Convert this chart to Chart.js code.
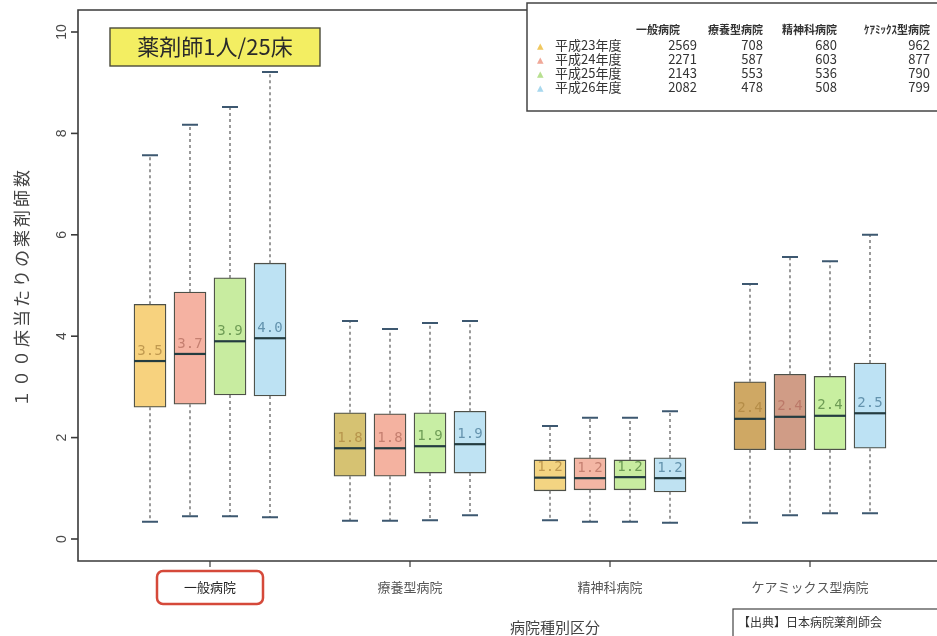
<!DOCTYPE html>
<html>
<head>
<meta charset="utf-8">
<script src="https://cdn.jsdelivr.net/npm/chart.js@4.4.1/dist/chart.umd.min.js"></script>
<style>
  body { margin: 0; background: #fff; overflow: hidden; }
  #wrap { width: 937px; height: 636px; position: relative; }
</style>
</head>
<body>
<div id="wrap"><canvas id="chart"></canvas></div>
<script>
// categories and years
const categories = ["一般病院", "療養型病院", "精神科病院", "ケアミックス型病院"];
const years = ["平成23年度", "平成24年度", "平成25年度", "平成26年度"];
const yTicks = [0, 2, 4, 6, 8, 10];

// box plot values per year (one value per category)
const low23 = [0.34, 0.36, 0.37, 0.32];
const q1_23 = [2.60, 1.24, 0.95, 1.76];
const med23 = [3.51, 1.79, 1.21, 2.37];
const q3_23 = [4.63, 2.49, 1.56, 3.10];
const high23 = [7.57, 4.30, 2.23, 5.03];

const low24 = [0.45, 0.36, 0.34, 0.47];
const q1_24 = [2.66, 1.24, 0.97, 1.76];
const med24 = [3.65, 1.79, 1.20, 2.41];
const q3_24 = [4.87, 2.47, 1.60, 3.25];
const high24 = [8.17, 4.14, 2.39, 5.56];

const low25 = [0.45, 0.37, 0.34, 0.51];
const q1_25 = [2.84, 1.30, 0.97, 1.76];
const med25 = [3.90, 1.83, 1.22, 2.43];
const q3_25 = [5.15, 2.49, 1.56, 3.21];
const high25 = [8.52, 4.26, 2.39, 5.48];

const low26 = [0.43, 0.47, 0.32, 0.51];
const q1_26 = [2.82, 1.30, 0.93, 1.79];
const med26 = [3.96, 1.87, 1.20, 2.48];
const q3_26 = [5.44, 2.52, 1.60, 3.47];
const high26 = [9.21, 4.30, 2.52, 6.00];

// median labels printed in the boxes
const label23 = ["3.5", "1.8", "1.2", "2.4"];
const label24 = ["3.7", "1.8", "1.2", "2.4"];
const label25 = ["3.9", "1.9", "1.2", "2.4"];
const label26 = ["4.0", "1.9", "1.2", "2.5"];

// number of hospitals (table top right)
const count23 = [2569, 708, 680, 962];
const count24 = [2271, 587, 603, 877];
const count25 = [2143, 553, 536, 790];
const count26 = [2082, 478, 508, 799];

const lows = [low23, low24, low25, low26];
const q1s = [q1_23, q1_24, q1_25, q1_26];
const meds = [med23, med24, med25, med26];
const q3s = [q3_23, q3_24, q3_25, q3_26];
const highs = [high23, high24, high25, high26];
const labels = [label23, label24, label25, label26];
const counts = [count23, count24, count25, count26];

const fills = [
  ["#f7d27e", "#d6c272", "#f3d482", "#cfa864"],
  ["#f5b2a2", "#f4b2a0", "#f3b6a4", "#d09c86"],
  ["#c8eca0", "#c8eea4", "#c8eca0", "#c8efa0"],
  ["#bde2f3", "#bfe3f3", "#bfe2f2", "#bde2f4"]
];
const textColors = ["rgba(170,130,60,0.7)", "rgba(180,110,95,0.75)", "rgba(80,130,60,0.75)", "rgba(70,120,150,0.75)"];
const markColors = ["#f0c860", "#f0a898", "#b8e090", "#a8d8ee"];

const boxPos = (g, y) => 1 + g * 5 + y;
const jp = '"Noto Sans CJK JP", sans-serif';

const datasets = years.map((yr, yi) => ({
  label: yr,
  data: categories.map((c, g) => ({ x: boxPos(g, yi), y: [q1s[yi][g], q3s[yi][g]] })),
  backgroundColor: categories.map((c, g) => fills[yi][g]),
  borderColor: "#4d5048",
  borderWidth: 1.3,
  borderSkipped: false,
  barThickness: 32,
  grouped: false
}));

const boxPlugin = {
  id: "boxplot",
  afterDatasetsDraw(chart) {
    const ctx = chart.ctx;
    const xs = chart.scales.x, ys = chart.scales.y;
    const area = chart.chartArea;
    ctx.save();
    years.forEach((yr, yi) => {
      categories.forEach((c, g) => {
        const px = xs.getPixelForValue(boxPos(g, yi));
        const yLow = ys.getPixelForValue(lows[yi][g]);
        const yQ1 = ys.getPixelForValue(q1s[yi][g]);
        const yMed = ys.getPixelForValue(meds[yi][g]);
        const yQ3 = ys.getPixelForValue(q3s[yi][g]);
        const yHigh = ys.getPixelForValue(highs[yi][g]);
        // whiskers
        ctx.setLineDash([3, 3]);
        ctx.strokeStyle = "#6f6f6f";
        ctx.lineWidth = 1.4;
        ctx.beginPath();
        ctx.moveTo(px, yQ3); ctx.lineTo(px, yHigh);
        ctx.moveTo(px, yQ1); ctx.lineTo(px, yLow);
        ctx.stroke();
        ctx.setLineDash([]);
        ctx.strokeStyle = "#3d5870";
        ctx.lineWidth = 2;
        ctx.beginPath();
        ctx.moveTo(px - 8, yHigh); ctx.lineTo(px + 8, yHigh);
        ctx.moveTo(px - 8, yLow); ctx.lineTo(px + 8, yLow);
        ctx.stroke();
        // median
        ctx.strokeStyle = "#243c40";
        ctx.lineWidth = 2.2;
        ctx.beginPath();
        ctx.moveTo(px - 16, yMed); ctx.lineTo(px + 16, yMed);
        ctx.stroke();
        ctx.fillStyle = textColors[yi];
        ctx.font = '14px "DejaVu Sans Mono", monospace';
        ctx.textAlign = "center";
        ctx.textBaseline = "middle";
        ctx.fillText(labels[yi][g], px, yMed - 10);
      });
    });

    // plot frame
    ctx.strokeStyle = "#3a3a3a";
    ctx.lineWidth = 1.6;
    ctx.beginPath();
    ctx.moveTo(area.right + 2, area.top);
    ctx.lineTo(area.left, area.top);
    ctx.lineTo(area.left, area.bottom);
    ctx.lineTo(area.right + 2, area.bottom);
    ctx.stroke();

    // y ticks
    ctx.fillStyle = "#4a4a4a";
    ctx.font = '14px "Liberation Sans", sans-serif';
    ctx.textAlign = "center";
    ctx.textBaseline = "middle";
    yTicks.forEach(t => {
      const py = ys.getPixelForValue(t);
      ctx.beginPath();
      ctx.moveTo(area.left - 7, py); ctx.lineTo(area.left, py);
      ctx.stroke();
      ctx.save();
      ctx.translate(62, py);
      ctx.rotate(-Math.PI / 2);
      ctx.fillText(String(t), 0, 0);
      ctx.restore();
    });

    // x ticks and category labels
    ctx.font = "13px " + jp;
    categories.forEach((c, g) => {
      const px = xs.getPixelForValue(boxPos(g, 1.5));
      ctx.strokeStyle = "#3a3a3a";
      ctx.lineWidth = 1.2;
      ctx.beginPath();
      ctx.moveTo(px, area.bottom); ctx.lineTo(px, area.bottom + 6);
      ctx.stroke();
      ctx.fillStyle = g === 0 ? "#222" : "#555";
      ctx.fillText(c, px, 587);
      if (g === 0) {
        ctx.strokeStyle = "#d5493a";
        ctx.lineWidth = 2.5;
        ctx.beginPath();
        ctx.roundRect(px - 53, 571, 106, 33, 6);
        ctx.stroke();
      }
    });

    // axis titles
    ctx.fillStyle = "#444";
    ctx.font = "15px " + jp;
    ctx.fillText("病院種別区分", 555, 627);
    ctx.save();
    ctx.translate(22, 287);
    ctx.rotate(-Math.PI / 2);
    ctx.font = "17px " + jp;
    ctx.letterSpacing = "3px";
    ctx.fillText("１００床当たりの薬剤師数", 0, 0);
    ctx.restore();

    // title box
    ctx.fillStyle = "#f3ee62";
    ctx.fillRect(110, 28, 210, 38);
    ctx.strokeStyle = "#4a4a3a";
    ctx.lineWidth = 1.4;
    ctx.strokeRect(110, 28, 210, 38);
    ctx.fillStyle = "#2a2a2a";
    ctx.font = "22px " + jp;
    ctx.fillText("薬剤師1人/25床", 215, 47);

    // hospital count table
    ctx.fillStyle = "#fff";
    ctx.fillRect(527, 3, 420, 108);
    ctx.strokeStyle = "#444";
    ctx.lineWidth = 1.5;
    ctx.strokeRect(527, 3, 420, 108);
    const colRight = [697, 763, 837, 930];
    ctx.textAlign = "right";
    ctx.fillStyle = "#333";
    ctx.font = "bold 11px " + jp;
    const heads = ["一般病院", "療養型病院", "精神科病院", "ｹｱﾐｯｸｽ型病院"];
    heads.forEach((h, i) => ctx.fillText(h, colRight[i] - (i === 0 ? 17 : 0), 30));
    ctx.font = "13px " + jp;
    years.forEach((yr, yi) => {
      const py = 45 + yi * 14;
      ctx.textAlign = "left";
      ctx.fillStyle = markColors[yi];
      ctx.fillText("▴", 537, py);
      ctx.fillStyle = "#333";
      ctx.fillText(yr, 555, py);
      ctx.textAlign = "right";
      counts[yi].forEach((n, i) => ctx.fillText(String(n), colRight[i], py));
    });

    // source box
    ctx.strokeStyle = "#444";
    ctx.lineWidth = 1.2;
    ctx.strokeRect(733, 609, 220, 40);
    ctx.textAlign = "left";
    ctx.fillStyle = "#333";
    ctx.font = "12px " + jp;
    ctx.fillText("【出典】日本病院薬剤師会", 738, 622);
    ctx.restore();
  }
};

new Chart(document.getElementById("chart"), {
  type: "bar",
  data: { datasets: datasets },
  options: {
    responsive: true,
    maintainAspectRatio: false,
    animation: false,
    layout: { padding: { top: 10, left: 0, right: 0, bottom: 0 } },
    plugins: { legend: { display: false }, tooltip: { enabled: false } },
    scales: {
      x: {
        type: "linear",
        offset: false,
        min: -0.8,
        max: 20.675,
        grid: { display: false },
        border: { display: false },
        ticks: { display: false },
        afterFit: s => { s.height = 75; }
      },
      y: {
        min: -0.434,
        max: 10.434,
        grid: { display: false },
        border: { display: false },
        ticks: { display: false },
        afterFit: s => { s.width = 78; }
      }
    }
  },
  plugins: [boxPlugin]
});
</script>
</body>
</html>
